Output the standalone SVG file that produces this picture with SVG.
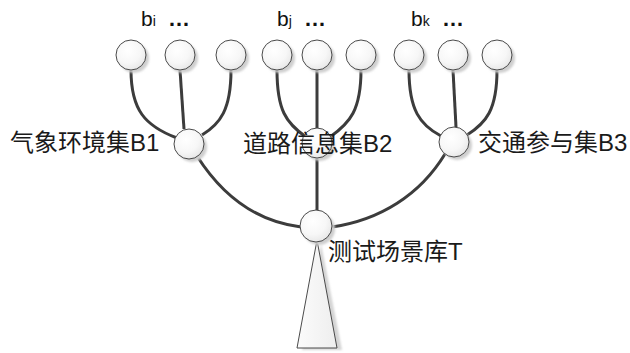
<svg xmlns="http://www.w3.org/2000/svg" width="630" height="353" viewBox="0 0 630 353">
<defs>
<radialGradient id="g" cx="0.4" cy="0.35" r="0.7">
<stop offset="0" stop-color="#ffffff"/>
<stop offset="0.6" stop-color="#f7f7f7"/>
<stop offset="1" stop-color="#e6e6e6"/>
</radialGradient>
<linearGradient id="tg" x1="0" y1="0" x2="1" y2="0">
<stop offset="0" stop-color="#fbfbfb"/>
<stop offset="1" stop-color="#eeeeee"/>
</linearGradient>
<filter id="blur" x="-50%" y="-50%" width="200%" height="200%"><feGaussianBlur stdDeviation="1.2"/></filter>
</defs>
<style>
.c{stroke:#3c3c3c;stroke-width:3;fill:none}
.n{fill:url(#g);stroke:#4a4a4a;stroke-width:1}
.s{fill:#cfcfcf;filter:url(#blur)}
.t{font-family:"Liberation Sans","Noto Sans CJK SC",sans-serif;font-size:24px;fill:#1a1a1a}
.b{font-family:"Liberation Sans",sans-serif;font-size:21px;fill:#111}
.sub{font-size:14px}
.d{font-family:"Liberation Sans",sans-serif;font-size:22px;font-weight:bold;fill:#111}
</style>
<g id="connectors">
<path class="c" d="M131,70 C131,110 145,126 177,138"/>
<path class="c" d="M180,70 L184,129"/>
<path class="c" d="M231,70 C231,110 220,124 202,135"/>
<path class="c" d="M277,70 C277,110 286,123 306,137"/>
<path class="c" d="M317,70 L317,128"/>
<path class="c" d="M361,70 C361,110 350,123 330,137"/>
<path class="c" d="M409,70 C409,110 420,125 441,136"/>
<path class="c" d="M453,70 L456,127"/>
<path class="c" d="M497,70 C497,110 486,123 467,135"/>
<path class="c" d="M197,156 C225,200 260,222 301,227"/>
<path class="c" d="M317,158 L317,211"/>
<path class="c" d="M445,154 C420,195 380,220 332,227"/>
</g>
<g id="tree-base">
<polygon points="321,244 342,350 302,350" fill="#d4d4d4" filter="url(#blur)"/>
<polygon points="317,240 337,348 297,348" fill="url(#tg)" stroke="#4a4a4a" stroke-width="1"/>
</g>
<g id="b1-1"><circle class="s" cx="134" cy="58" r="15"/><circle class="n" cx="131" cy="55" r="15"/></g>
<g id="b1-2"><circle class="s" cx="183" cy="58" r="15"/><circle class="n" cx="180" cy="55" r="15"/></g>
<g id="b1-3"><circle class="s" cx="234" cy="58" r="15"/><circle class="n" cx="231" cy="55" r="15"/></g>
<g id="b2-1"><circle class="s" cx="280" cy="58" r="15"/><circle class="n" cx="277" cy="55" r="15"/></g>
<g id="b2-2"><circle class="s" cx="320" cy="58" r="15"/><circle class="n" cx="317" cy="55" r="15"/></g>
<g id="b2-3"><circle class="s" cx="364" cy="58" r="15"/><circle class="n" cx="361" cy="55" r="15"/></g>
<g id="b3-1"><circle class="s" cx="412" cy="58" r="15"/><circle class="n" cx="409" cy="55" r="15"/></g>
<g id="b3-2"><circle class="s" cx="456" cy="58" r="15"/><circle class="n" cx="453" cy="55" r="15"/></g>
<g id="b3-3"><circle class="s" cx="500" cy="58" r="15"/><circle class="n" cx="497" cy="55" r="15"/></g>
<g id="B1"><circle class="s" cx="192" cy="147" r="15"/><circle class="n" cx="189" cy="144" r="15"/><text class="t" x="10" y="151">气象环境集B1</text></g>
<g id="B2"><circle class="s" cx="320" cy="146" r="15"/><circle class="n" cx="317" cy="143" r="15"/><text class="t" x="243" y="152">道路信息集B2</text></g>
<g id="B3"><circle class="s" cx="457" cy="145" r="15"/><circle class="n" cx="454" cy="142" r="15"/><text class="t" x="478" y="151">交通参与集B3</text></g>
<g id="T"><circle class="s" cx="319" cy="229" r="16"/><circle class="n" cx="316" cy="226" r="16"/><text class="t" x="328" y="260">测试场景库T</text></g>
<g id="labels">
<text class="b" x="141" y="26">b<tspan class="sub">i</tspan></text><text class="d" x="168" y="26">…</text>
<text class="b" x="277" y="26">b<tspan class="sub">j</tspan></text><text class="d" x="304" y="26">…</text>
<text class="b" x="411" y="26">b<tspan class="sub">k</tspan></text><text class="d" x="442" y="26">…</text>
</g>
</svg>
